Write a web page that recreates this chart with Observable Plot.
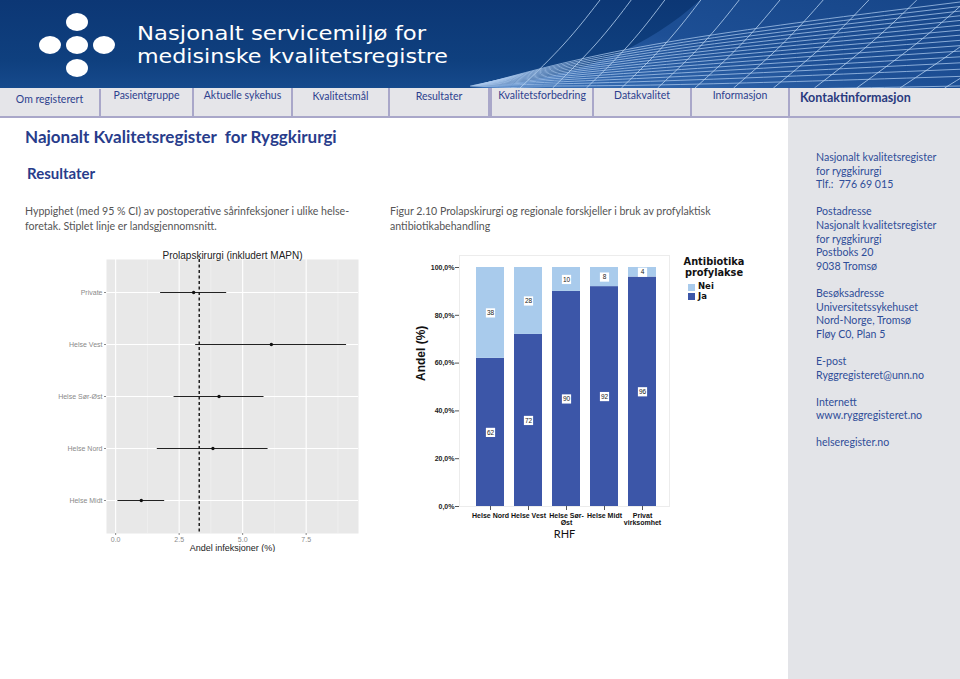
<!DOCTYPE html>
<html><head><meta charset="utf-8">
<script src="https://cdn.jsdelivr.net/npm/d3@7"></script>
<script src="https://cdn.jsdelivr.net/npm/@observablehq/plot@0.6"></script>
<style>
body{margin:0;width:960px;height:679px;overflow:hidden;position:relative;background:#fff;font-family:Lato,"Open Sans",sans-serif}
.abs{position:absolute;white-space:nowrap}
#header{left:0;top:0;width:960px;height:88px;background:linear-gradient(180deg,#0c3775 0%,#0f407f 70%,#164a8c 100%)}
#nav{left:0;top:88px;width:960px;height:30px;background:#e5e5e9;border-bottom:2px solid #a9a7c9;box-sizing:border-box}
.tab{position:absolute;top:0;height:28px;border-right:2px solid #a9a7c9;box-sizing:border-box;font-size:10.5px;color:#2d3f8e;text-align:center}
#side{left:788px;top:118px;width:172px;height:561px;background:#e3e4e8}
#side div{font-size:10.6px;line-height:13.6px;color:#2f4d98}
.h1{left:25px;top:126px;font-size:17px;font-weight:700;color:#283c8b}
.h2{left:27px;top:164px;font-size:15px;font-weight:700;color:#283c8b}
.p{font-size:10.6px;line-height:15px;color:#555}
.leg{font-family:'DejaVu Sans',Verdana,sans-serif;font-weight:700;color:#111}
</style></head><body>
<div id="header" class="abs">
<svg id="wire" width="960" height="88" style="position:absolute;left:0;top:0"></svg>
<svg width="140" height="88" style="position:absolute;left:0;top:0">
<ellipse cx="77" cy="22" rx="11" ry="9" fill="#fff"/>
<ellipse cx="77" cy="45" rx="11" ry="9" fill="#fff"/>
<ellipse cx="77" cy="68" rx="11" ry="9" fill="#fff"/>
<ellipse cx="50" cy="45" rx="11" ry="9" fill="#fff"/>
<ellipse cx="104" cy="45" rx="11" ry="9" fill="#fff"/>
</svg>
<svg width="480" height="88" style="position:absolute;left:0;top:0">
<text x="137" y="40" fill="#fff" font-family="'DejaVu Sans',sans-serif" font-size="19.5" textLength="289" lengthAdjust="spacingAndGlyphs">Nasjonalt servicemiljø for</text>
<text x="137" y="63" fill="#fff" font-family="'DejaVu Sans',sans-serif" font-size="19.5" textLength="311" lengthAdjust="spacingAndGlyphs">medisinske kvalitetsregistre</text>
</svg>
</div>
<div id="nav" class="abs">
<div class="tab" style="left:0;width:101px;line-height:20px;top:1px">Om registerert</div>
<div class="tab" style="left:101px;width:93px;line-height:14px">Pasientgruppe</div>
<div class="tab" style="left:194px;width:99px;line-height:14px">Aktuelle sykehus</div>
<div class="tab" style="left:293px;width:97px;line-height:17px">Kvalitetsmål</div>
<div class="tab" style="left:390px;width:100px;line-height:17px">Resultater</div>
<div class="tab" style="left:490px;width:104px;line-height:14px;border-left:2px solid #a9a7c9">Kvalitetsforbedring</div>
<div class="tab" style="left:594px;width:98px;line-height:14px">Datakvalitet</div>
<div class="tab" style="left:692px;width:98px;line-height:14px">Informasjon</div>
<div class="abs" style="left:800px;top:1px;font-size:12.5px;font-weight:700;color:#2a3a7e;line-height:18px">Kontaktinformasjon</div>
</div>
<div id="side" class="abs">
<div class="abs" style="left:28px;top:33px">Nasjonalt kvalitetsregister<br>for ryggkirurgi<br>Tlf.:&nbsp; 776 69 015<br><br>Postadresse<br>Nasjonalt kvalitetsregister<br>for ryggkirurgi<br>Postboks 20<br>9038 Tromsø<br><br>Besøksadresse<br>Universitetssykehuset<br>Nord-Norge, Tromsø<br>Fløy C0, Plan 5<br><br>E-post<br>Ryggregisteret@unn.no<br><br>Internett<br>www.ryggregisteret.no<br><br>helseregister.no</div>
</div>
<div class="abs h1">Najonalt Kvalitetsregister&nbsp; for Ryggkirurgi</div>
<div class="abs h2">Resultater</div>
<div class="abs p" style="left:25px;top:204px">Hyppighet (med 95 % CI) av postoperative sårinfeksjoner i ulike helse-<br>foretak. Stiplet linje er landsgjennomsnitt.</div>
<div class="abs p" style="left:390px;top:204px">Figur 2.10 Prolapskirurgi og regionale forskjeller i bruk av profylaktisk<br>antibiotikabehandling</div>
<div id="chart1" class="abs" style="left:50px;top:240px;width:320px;height:312px;overflow:hidden"></div>
<div id="chart2" class="abs" style="left:400px;top:245px"></div>
<div class="abs leg" style="left:674px;top:256px;width:80px;text-align:center;font-size:9.8px;line-height:11px">Antibiotika<br>profylakse</div>
<div class="abs" style="left:688px;top:284px;width:7px;height:7px;background:#a9cbec"></div>
<div class="abs" style="left:688px;top:293px;width:7px;height:7px;background:#3c56a8"></div>
<div class="abs leg" style="left:698px;top:282px;font-size:8.5px;line-height:9.5px">Nei<br>Ja</div>
<script>
// ---------- data ----------
const regions = ["Private","Helse Vest","Helse Sør-Øst","Helse Nord","Helse Midt"];
const estimates = [3.07, 6.13, 4.07, 3.83, 1.01];
const lowerCI = [1.77, 3.15, 2.30, 1.64, 0.09];
const upperCI = [4.37, 9.09, 5.84, 6.00, 1.93];
const nationalMean = 3.29;
const infTicks = [0, 2.5, 5, 7.5];
const infMinor = [1.25, 3.75, 6.25, 8.75];

const rhf = ["Helse Nord","Helse Vest","Helse Sør-Øst","Helse Midt","Privat virksomhet"];
const rhfLabels = ["Helse Nord","Helse Vest","Helse Sør-\nØst","Helse Midt","Privat\nvirksomhet"];
const jaPct = [62, 72, 90, 92, 96];
const neiPct = [38, 28, 10, 8, 4];
const groups = ["Ja","Nei"];
const pctTicks = [0, 20, 40, 60, 80, 100];

// ---------- header wireframe decoration ----------
(function(){
  const svg = d3.select("#wire");
  const defs = svg.append("defs");
  const g = defs.append("linearGradient").attr("id","sg").attr("x1",0).attr("x2",1).attr("y1",1).attr("y2",0);
  g.append("stop").attr("offset",0).attr("stop-color","#3b72b8");
  g.append("stop").attr("offset",0.5).attr("stop-color","#1d4f95");
  g.append("stop").attr("offset",1).attr("stop-color","#174689");
  svg.append("path").attr("d","M470,88 C560,82 640,55 700,0 L960,0 L960,88 Z").attr("fill","url(#sg)");
  const line = d3.line().curve(d3.curveBasis);
  for (let k=0;k<16;k++){
    const t=k/15;
    const y1 = 86 - t*4, y2 = 86 - Math.pow(t,0.8)*84;
    svg.append("path").attr("d", line([[470+t*20,y1],[640, (y1+y2)/2+ (1-t)*6],[960,y2]]))
      .attr("fill","none").attr("stroke","#a9c8ec").attr("stroke-width",0.9).attr("opacity",0.85);
  }
  for (let k=0;k<14;k++){
    const x0 = 520 + k*32 + k*k*0.6;
    const xt = 600 + k*30 + k*k*1.2;
    svg.append("path").attr("d", line([[x0,88],[ (x0+xt)/2 + 6,44],[xt,0]]))
      .attr("fill","none").attr("stroke","#b7d2f0").attr("stroke-width",1).attr("opacity",0.8);
  }
})();

// ---------- chart 1 : forest plot ----------
const ciData = regions.map((r,i)=>({region:r, est:estimates[i], lo:lowerCI[i], hi:upperCI[i]}));
const c1 = Plot.plot({
  width:320, height:312,
  marginLeft:56, marginRight:12, marginTop:19, marginBottom:19,
  style:{fontFamily:"'Liberation Sans',Arial,sans-serif", background:"transparent"},
  x:{domain:[-0.36,9.56]},
  y:{type:"point", domain:regions, padding:0.6},
  marks:[
    Plot.frame({fill:"#e8e8e8", stroke:null}),
    Plot.ruleX(infMinor, {stroke:"#f4f4f4", strokeWidth:0.6}),
    Plot.ruleX(infTicks, {stroke:"#fff", strokeWidth:1.1}),
    Plot.ruleY(regions, {stroke:"#fff", strokeWidth:1.1}),
    Plot.ruleY(ciData, {y:"region", x1:"lo", x2:"hi", stroke:"#222", strokeWidth:1.1}),
    Plot.ruleX([nationalMean], {stroke:"#111", strokeWidth:1.4, strokeDasharray:"3,2.5"}),
    Plot.dot(ciData, {x:"est", y:"region", r:1.7, fill:"#111", stroke:null}),
    Plot.axisX({ticks:infTicks, tickFormat:d=>d.toFixed(1), tickSize:2, tickPadding:2, fontSize:7, fill:"#8a8a8a", stroke:"#8a8a8a", label:null}),
    Plot.axisY({tickSize:2, tickPadding:2, fontSize:7, fill:"#8a8a8a", stroke:"#8a8a8a", label:null}),
    Plot.text(["Prolapskirurgi (inkludert MAPN)"], {frameAnchor:"top", lineAnchor:"bottom", dy:-1, fontSize:10, fill:"#222"}),
    Plot.text(["Andel infeksjoner (%)"], {frameAnchor:"bottom", lineAnchor:"top", dy:11, fontSize:9, fill:"#222"})
  ]
});
document.getElementById("chart1").append(c1);

// ---------- chart 2 : stacked bars ----------
const barData = [];
rhf.forEach((r,i)=>{
  barData.push({rhf:r, group:"Ja", value:jaPct[i]});
  barData.push({rhf:r, group:"Nei", value:neiPct[i]});
});
const stackOpts = {x:"rhf", y:"value", z:"group", order:groups};
const c2 = Plot.plot({
  width:280, height:305,
  marginLeft:59, marginRight:11, marginTop:10, marginBottom:44,
  style:{fontFamily:"'Liberation Sans',Arial,sans-serif", background:"transparent"},
  x:{domain:rhf, paddingInner:0.27, paddingOuter:0.135, insetLeft:10, insetRight:6},
  y:{domain:[0,100], insetTop:12},
  color:{domain:groups, range:["#3c56a8","#a9cbec"]},
  marks:[
    Plot.frame({stroke:"#ececec"}),
    Plot.barY(barData, Plot.stackY({...stackOpts, fill:"group"})),
    Plot.dot(barData, Plot.stackY({...stackOpts, symbol:"square", r:5.2, fill:"#fff", stroke:null})),
    Plot.text(barData, Plot.stackY({...stackOpts, text:"value", fontSize:6.5, fill:"#222"})),
    Plot.axisY({ticks:pctTicks, tickFormat:d=>d.toFixed(1).replace(".",",")+"%", tickSize:4, tickPadding:1, fontSize:7, fontWeight:"bold", fill:"#222", stroke:"#555", label:null}),
    Plot.axisX({tickFormat:(d,i)=>rhfLabels[rhf.indexOf(d)], tickSize:4, tickPadding:2, fontSize:7, fontWeight:"bold", fill:"#111", stroke:"#555", lineHeight:1.05, label:null}),
    Plot.text(["Andel (%)"], {frameAnchor:"left", rotate:-90, dx:-38, fontSize:12, fontWeight:"bold", fill:"#111"}),
    Plot.text(["RHF"], {frameAnchor:"bottom", dy:31, fontSize:11, fill:"#111", fontFamily:"Lato,sans-serif"})
  ]
});
document.getElementById("chart2").append(c2);
</script>
</body></html>
